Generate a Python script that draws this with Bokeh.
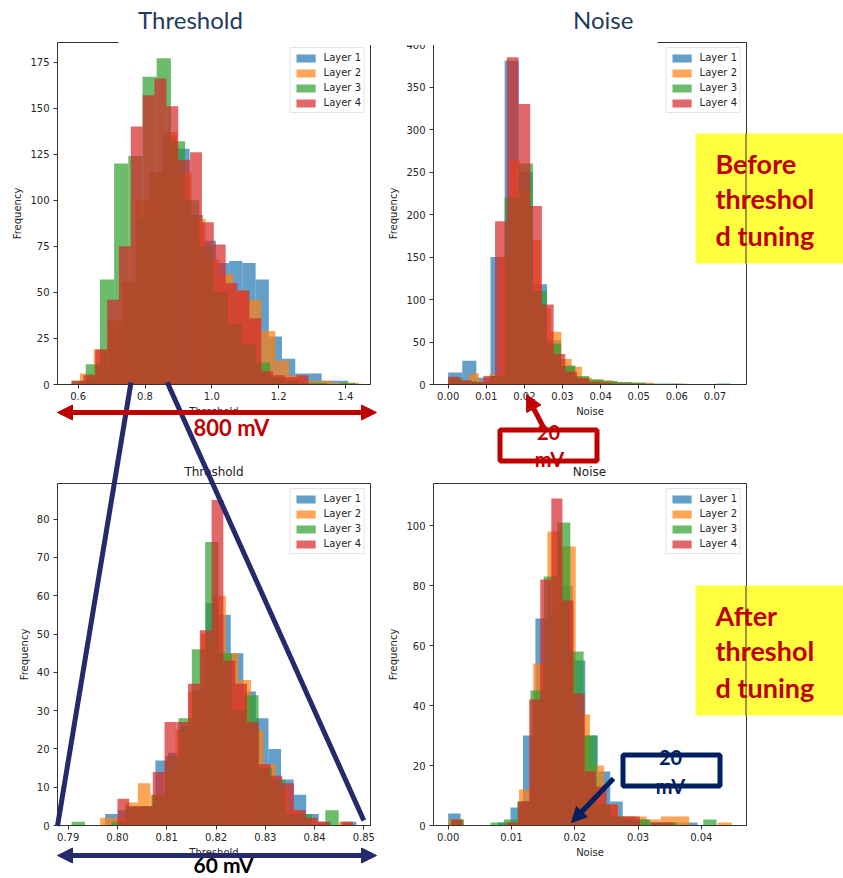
import numpy as np
from bokeh.plotting import figure
from bokeh.models import (Range1d, FixedTicker, PrintfTickFormatter, Label, Arrow,
                          NormalHead, BoxAnnotation, GridBox, Column)
from bokeh.embed import file_html
from bokeh.resources import INLINE

LAYERS = ["Layer 1", "Layer 2", "Layer 3", "Layer 4"]
COLORS = ["#1f77b4", "#ff7f0e", "#2ca02c", "#d62728"]

# ---- Threshold, before tuning (each layer: 20 bins between min and max) ----
thr_before_l1_span = (0.617, 1.408)
thr_before_l1 = [2, 8, 30, 55, 90, 115, 135, 128, 92, 78, 66, 67, 66, 57, 26, 14, 6, 6, 2, 2]
thr_before_l2_span = (0.605, 1.441)
thr_before_l2 = [6, 19, 35, 56, 100, 115, 137, 115, 90, 68, 60, 51, 46, 29, 13, 5, 2, 2, 1, 1]
thr_before_l3_span = (0.58, 1.43)
thr_before_l3 = [2, 11, 57, 120, 124, 167, 177, 132, 100, 75, 50, 33, 22, 12, 4, 2, 1, 1, 0, 1]
thr_before_l4_span = (0.58, 1.29)
thr_before_l4 = [2, 5, 19, 46, 75, 140, 157, 166, 151, 122, 126, 88, 76, 55, 51, 36, 7, 5, 4, 5]

# ---- Noise, before tuning ----
noise_before_l1_span = (0.0, 0.0741)
noise_before_l1 = [14, 28, 8, 150, 381, 250, 118, 52, 22, 7, 5, 3, 2, 2, 1, 1, 0, 0, 0, 1]
noise_before_l2_span = (0.0, 0.054)
noise_before_l2 = [5, 3, 13, 4, 12, 150, 264, 230, 170, 90, 62, 30, 21, 8, 6, 5, 3, 2, 2, 2]
noise_before_l3_span = (0.0, 0.0741)
noise_before_l3 = [8, 4, 3, 10, 220, 260, 110, 48, 22, 10, 6, 4, 3, 2, 1, 1, 1, 0, 0, 1]
noise_before_l4_span = (0.0, 0.0615)
noise_before_l4 = [9, 5, 3, 10, 192, 385, 330, 210, 94, 36, 15, 8, 3, 2, 1, 1, 0, 0, 0, 1]

# ---- Threshold, after tuning ----
thr_after_l1_span = (0.7975, 0.8485)
thr_after_l1 = [3, 4, 4, 5, 17, 19, 26, 35, 58, 55, 45, 35, 28, 20, 12, 8, 3, 1, 0, 1]
thr_after_l2_span = (0.7965, 0.8475)
thr_after_l2 = [2, 2, 6, 11, 8, 14, 25, 35, 50, 60, 45, 38, 25, 16, 10, 4, 2, 1, 0, 1]
thr_after_l3_span = (0.7907, 0.8449)
thr_after_l3 = [1, 0, 0, 1, 5, 5, 8, 18, 28, 46, 74, 45, 30, 34, 15, 12, 3, 3, 0, 4]
thr_after_l4_span = (0.8, 0.84776)
thr_after_l4 = [7, 5, 5, 14, 27, 27, 37, 51, 85, 43, 37, 27, 16, 13, 11, 4, 2, 1, 0, 1]

# ---- Noise, after tuning ----
noise_after_l1_span = (0.0, 0.0394)
noise_after_l1 = [4, 0, 0, 0, 1, 6, 30, 69, 70, 80, 55, 30, 18, 8, 3, 2, 1, 1, 1, 1]
noise_after_l2_span = (0.0, 0.0448)
noise_after_l2 = [2, 0, 0, 0, 1, 12, 54, 98, 93, 37, 20, 7, 3, 3, 2, 3, 3, 0, 0, 1]
noise_after_l3_span = (0.0004, 0.0424)
noise_after_l3 = [2, 0, 0, 1, 2, 8, 45, 83, 101, 58, 30, 7, 3, 2, 2, 1, 1, 0, 0, 2]
noise_after_l4_span = (0.00055, 0.03555)
noise_after_l4 = [2, 0, 0, 0, 0, 1, 8, 42, 82, 109, 75, 44, 18, 13, 7, 3, 3, 0, 1, 1]

thr_before_xticks = [0.6, 0.8, 1.0, 1.2, 1.4]
thr_before_yticks = [0, 25, 50, 75, 100, 125, 150, 175]
noise_before_xticks = [0.0, 0.01, 0.02, 0.03, 0.04, 0.05, 0.06, 0.07]
noise_before_yticks = [0, 50, 100, 150, 200, 250, 300, 350, 400]
thr_after_xticks = [0.79, 0.80, 0.81, 0.82, 0.83, 0.84, 0.85]
thr_after_yticks = [0, 10, 20, 30, 40, 50, 60, 70, 80]
noise_after_xticks = [0.0, 0.01, 0.02, 0.03, 0.04]
noise_after_yticks = [0, 20, 40, 60, 80, 100]

RED = "#C00000"
NAVY = "#242A6B"
DARKBLUE = "#002060"
YELLOW = "#FFFF40"
TITLE_BLUE = "#1F3B5E"
SPINE = "#333333"

# panel geometry in page pixels
G_tl = dict(w=385, h=466, ml=57, mr=15, mt=42, mb=82)
G_tr = dict(w=458, h=466, ml=47, mr=97, mt=42, mb=82)
G_bl = dict(w=385, h=412, ml=57, mr=15, mt=17, mb=52)
G_br = dict(w=458, h=412, ml=47, mr=97, mt=17, mb=53)


def make_panel(g, xr, yr, spans, counts, xticks, yticks, xfmt, xlabel):
    p = figure(width=g["w"], height=g["h"], output_backend="svg", toolbar_location=None,
               x_range=Range1d(*xr), y_range=Range1d(*yr),
               min_border_left=g["ml"], min_border_right=g["mr"],
               min_border_top=g["mt"], min_border_bottom=g["mb"])
    p.outline_line_color = SPINE
    p.outline_line_width = 1
    p.xgrid.visible = False
    p.ygrid.visible = False
    for name, col, span, cnt in zip(LAYERS, COLORS, spans, counts):
        edges = np.linspace(span[0], span[1], len(cnt) + 1)
        p.quad(left=edges[:-1], right=edges[1:], bottom=0, top=cnt,
               fill_color=col, fill_alpha=0.7, line_color=None, legend_label=name)
    for ax in (p.xaxis[0], p.yaxis[0]):
        ax.major_tick_in = 0
        ax.major_tick_out = 4
        ax.minor_tick_line_color = None
        ax.axis_line_color = SPINE
        ax.major_tick_line_color = SPINE
        ax.major_label_text_font = "DejaVu Sans"
        ax.major_label_text_font_size = "10px"
        ax.major_label_text_color = "#262626"
        ax.axis_label_text_font = "DejaVu Sans"
        ax.axis_label_text_font_size = "10px"
        ax.axis_label_text_font_style = "normal"
        ax.axis_label_text_color = "#262626"
    p.xaxis.ticker = FixedTicker(ticks=xticks)
    p.yaxis.ticker = FixedTicker(ticks=yticks)
    p.xaxis.formatter = PrintfTickFormatter(format=xfmt)
    p.xaxis.axis_label = xlabel
    p.yaxis.axis_label = "Frequency"
    p.xaxis.major_label_standoff = 3
    p.xaxis.axis_label_standoff = 3
    p.yaxis.major_label_standoff = 4
    p.yaxis.axis_label_standoff = 4
    leg = p.legend[0]
    leg.location = "top_right"
    leg.margin = 5
    leg.padding = 3
    leg.spacing = 2
    leg.glyph_width = 24
    leg.glyph_height = 10
    leg.label_standoff = 6
    leg.label_height = 13
    leg.label_text_font = "DejaVu Sans"
    leg.label_text_font_size = "10px"
    leg.label_text_color = "#262626"
    leg.border_line_color = "#cccccc"
    leg.background_fill_alpha = 0.8
    return p


tl = make_panel(G_tl, (0.538, 1.4751), (0, 185.6),
                [thr_before_l1_span, thr_before_l2_span, thr_before_l3_span, thr_before_l4_span],
                [thr_before_l1, thr_before_l2, thr_before_l3, thr_before_l4],
                thr_before_xticks, thr_before_yticks, "%.1f", "Threshold")
tr = make_panel(G_tr, (-0.003844, 0.07827), (0, 402.4),
                [noise_before_l1_span, noise_before_l2_span, noise_before_l3_span, noise_before_l4_span],
                [noise_before_l1, noise_before_l2, noise_before_l3, noise_before_l4],
                noise_before_xticks, noise_before_yticks, "%.2f", "Noise")
bl = make_panel(G_bl, (0.787828, 0.851356), (0, 89.3),
                [thr_after_l1_span, thr_after_l2_span, thr_after_l3_span, thr_after_l4_span],
                [thr_after_l1, thr_after_l2, thr_after_l3, thr_after_l4],
                thr_after_xticks, thr_after_yticks, "%.2f", "Threshold")
br = make_panel(G_br, (-0.002315, 0.047134), (0, 114.0),
                [noise_after_l1_span, noise_after_l2_span, noise_after_l3_span, noise_after_l4_span],
                [noise_after_l1, noise_after_l2, noise_after_l3, noise_after_l4],
                noise_after_xticks, noise_after_yticks, "%.2f", "Noise")

# ---------------- transparent overlay for the slide annotations (page pixels) ----------------
ov = figure(width=843, height=878, output_backend="svg", toolbar_location=None,
            x_range=Range1d(0, 843), y_range=Range1d(878, 0),
            x_axis_location=None, y_axis_location=None, min_border=0)
ov.outline_line_color = None
ov.background_fill_color = None
ov.border_fill_color = None
ov.xgrid.visible = False
ov.ygrid.visible = False


def seg(x0, y0, x1, y1, color, lw, start=None, end=None):
    ov.add_layout(Arrow(x_start=x0, y_start=y0, x_end=x1, y_end=y1,
                        start=start, end=end, line_color=color, line_width=lw))


def head(color, size):
    return NormalHead(size=size, fill_color=color, line_color=color, line_width=1)


def box(x0, y0, x1, y1, fill=None, line=None, lw=0):
    ov.add_layout(BoxAnnotation(left=x0, right=x1, top=y0, bottom=y1,
                                fill_color=fill, fill_alpha=1.0 if fill else 0.0,
                                line_color=line, line_alpha=1.0 if line else 0.0,
                                line_width=lw))


def label(x, base_y, text, size_px, color, font="Lato", style="normal", align="left"):
    # base_y is the text baseline in page pixels; anchor on the vertical middle
    ov.add_layout(Label(x=x, y=base_y - 0.38 * size_px, text=text, text_font=font,
                        text_font_size=f"{size_px}px", text_color=color,
                        text_font_style=style, text_align=align, text_baseline="middle"))


# slide titles on white boxes that hide part of the top spines
box(118, 0, 385, 44.5, fill="white")
box(385, 0, 657, 44.5, fill="white")
label(190, 28, "Threshold", 24, TITLE_BLUE, align="center")
label(602.7, 28, "Noise", 24, TITLE_BLUE, align="center")

# yellow notes
box(695, 133, 843, 263, fill=YELLOW)
box(695, 585, 843, 715, fill=YELLOW)
seg(745.5, 133, 745.5, 263, SPINE, 1)
seg(745.5, 585, 745.5, 715, SPINE, 1)
label(715, 173, "Before", 27, RED, style="bold")
label(715, 208, "threshol", 27, RED, style="bold")
label(715, 245, "d tuning", 27, RED, style="bold")
label(715, 625, "After", 27, RED, style="bold")
label(715, 660, "threshol", 27, RED, style="bold")
label(715, 697, "d tuning", 27, RED, style="bold")

# lower panel titles
label(213.5, 476, "Threshold", 12, "#222222", font="DejaVu Sans", align="center")
label(589, 476, "Noise", 12, "#222222", font="DejaVu Sans", align="center")

# zoom lines from the top threshold axis to the bottom one
seg(130.5, 382, 57, 825.5, NAVY, 5)
seg(166.7, 381.7, 363.3, 820, NAVY, 5)

# 800 mV span
seg(57, 412, 376, 412, RED, 5, start=head(RED, 15), end=head(RED, 15))
label(193, 435, "800 mV", 22, RED, style="bold")

# 20 mV callout, before
box(499.5, 429.5, 596.5, 460.5, line=RED, lw=5)
label(548, 440, "20", 20, RED, style="bold", align="center")
label(549, 466, "mV", 20, RED, style="bold", align="center")
seg(543, 427, 526, 394, RED, 5, end=head(RED, 16))

# 60 mV span
seg(57, 855, 376, 855, NAVY, 5, start=head(NAVY, 15), end=head(NAVY, 15))
label(193, 872, "60 mV", 21, "#000000", style="bold")

# 20 mV callout, after
box(622.5, 754.5, 719.5, 785.5, line=DARKBLUE, lw=5)
label(670, 765, "20", 20, DARKBLUE, style="bold", align="center")
label(670, 793, "mV", 20, DARKBLUE, style="bold", align="center")
seg(613, 778, 571, 822, DARKBLUE, 5, end=head(DARKBLUE, 15))

panels = GridBox(children=[(tl, 0, 0), (tr, 0, 1), (bl, 1, 0), (br, 1, 1)])
page = GridBox(children=[(panels, 0, 0), (Column(children=[ov]), 0, 0)])
open("out.html", "w").write(file_html(page, INLINE))
